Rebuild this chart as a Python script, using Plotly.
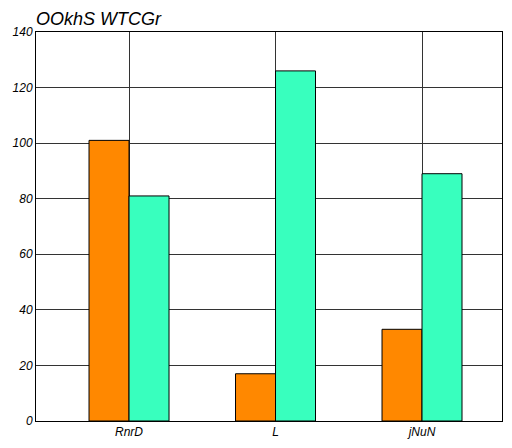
import plotly.graph_objects as go

categories = ["RnrD", "L", "jNuN"]
series_a = [101, 17, 33]
series_b = [81, 126, 89]
y_ticks = [0, 20, 40, 60, 80, 100, 120, 140]

font_family = "Liberation Sans, Arial, sans-serif"

fig = go.Figure()
fig.add_trace(go.Bar(x=categories, y=series_a, name="a",
                     marker=dict(color="#FF8800", line=dict(color="#000000", width=1))))
fig.add_trace(go.Bar(x=categories, y=series_b, name="b",
                     marker=dict(color="#38FFBE", line=dict(color="#000000", width=1))))

# page body has an 8px margin, so the figure is sized to fit inside it
fig.update_layout(
    width=496, height=432,
    margin=dict(l=28, r=2, t=24, b=19),
    paper_bgcolor="white", plot_bgcolor="white",
    barmode="group", bargap=0.454, bargroupgap=0,
    showlegend=False,
    title=dict(text="<i>OOkhS WTCGr</i>", xref="paper", x=0, xanchor="left",
               y=0.976, yanchor="middle",
               font=dict(family=font_family, size=18, color="#000000")),
    font=dict(family=font_family, color="#000000"),
)
fig.update_xaxes(range=[-0.635, 2.546], showgrid=True, gridcolor="#333333", gridwidth=1,
                 showline=True, linecolor="#000000", linewidth=1, mirror=True,
                 ticks="", tickfont=dict(size=12, family=font_family), automargin=False,
                 tickvals=categories, ticktext=["<i>%s</i>" % c for c in categories])
fig.update_yaxes(range=[0, 140], tickvals=y_ticks, ticktext=["<i>%d</i>" % v for v in y_ticks],
                 showgrid=True, gridcolor="#333333", gridwidth=1, zeroline=False,
                 showline=True, linecolor="#000000", linewidth=1, mirror=True, automargin=False,
                 ticks="", tickfont=dict(size=12, family=font_family))

fig.write_html("out.html")
